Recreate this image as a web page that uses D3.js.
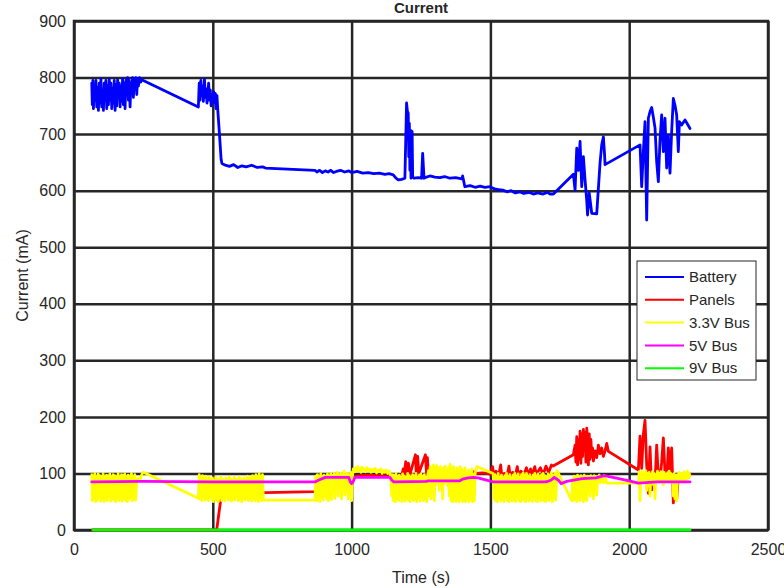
<!DOCTYPE html>
<html lang="en">
<head>
  <meta charset="UTF-8">
  <title>Current</title>
  <script src="https://d3js.org/d3.v7.min.js"></script>
  <style>
    body { margin: 0; background: #fff; }
    text { font-family: "Liberation Sans", Arial, sans-serif; fill: #262626; }
  </style>
</head>
<body>
  <div id="chart"></div>

  <script>
    // series: [time (s), current (mA)]
    const battery = [
      [64,790],[66,752],[68,795],[70,745],[73,785],[76,760],[79,795],[82,748],[85,782],[88,742],[91,790],[94,755],
      [97,798],[100,748],[103,775],[106,742],[109,790],[112,760],[115,795],[118,745],[121,785],[124,752],[127,797],
      [130,760],[133,790],[136,745],[139,780],[142,755],[145,795],[148,742],[151,788],[154,750],[157,796],[160,765],
      [163,790],[166,748],[169,785],[172,758],[175,798],[178,752],[181,790],[184,745],[187,795],[190,770],[193,800],
      [196,760],[199,795],[202,748],[205,790],[208,775],[211,800],[214,765],[217,798],[220,785],[223,800],[226,770],
      [229,798],[232,785],[236,800],[240,792],[244,796],
      [448,748],[451,790],[454,760],[457,795],[460,768],[463,785],[466,758],[470,797],[473,765],[476,780],[479,755],
      [482,772],[485,790],[488,760],[491,778],[494,750],[497,770],[500,763],[503,775],[506,755],[509,772],[512,745],
      [515,768],[518,742],[524,700],[530,655],[533,648],[545,645],[560,643],[575,646],[590,641],[605,644],[620,642],
      [640,645],[660,641],[680,642],[690,640],
      [868,636],[875,633],[885,636],[895,632],[905,635],[915,633],[925,636],[935,632],[945,634],[960,636],[975,633],
      [990,635],[1000,632],[1020,634],[1040,631],[1060,632],[1080,630],[1100,631],[1120,629],[1135,630],[1150,628],
      [1160,622],[1168,619],[1180,620],[1192,622],
      [1198,755],[1201,740],[1204,737],[1206,660],[1208,719],[1210,636],[1212,707],[1214,622],[1216,690],[1218,705],
      [1220,624],[1225,622],[1240,623],[1252,622],[1256,666],[1261,622],[1270,624],[1282,626],[1300,624],[1318,623],
      [1335,625],[1354,622],[1375,623],[1397,621],[1400,626],[1408,607],[1427,609],[1445,606],[1463,608],[1480,606],
      [1499,607],[1515,603],[1529,602],[1545,601],[1560,598],[1575,600],[1590,596],[1605,598],[1620,595],[1640,597],
      [1655,594],[1670,596],[1690,594],[1705,597],[1715,594],[1727,594],
      [1799,629],[1805,601],[1811,675],[1817,636],[1823,687],[1829,607],[1835,660],[1841,619],[1847,583],[1850,557],
      [1856,596],[1865,560],[1883,559],[1895,649],[1901,681],[1907,695],[1911,666],[1913,646],
      [2039,681],[2045,607],[2051,669],[2057,722],[2063,548],[2069,728],[2075,740],[2081,747],[2087,730],[2093,711],
      [2099,651],[2105,616],[2111,690],[2117,734],[2123,669],[2129,728],[2135,640],[2141,698],[2147,631],[2153,705],
      [2159,763],[2165,751],[2171,734],[2177,669],[2181,722],[2189,716],[2201,725],[2207,720],[2219,710]
    ];

    const panels = [
      [68,0],[514,0],[535,77],[540,68],[560,66],[600,67],[650,66],[690,66],[868,68],[880,85],[890,90],[920,92],
      [960,93],[990,90],[995,80],[1000,75],[1004,90],[1010,95],[1050,97],[1100,96],[1140,95],[1150,90],[1170,92],
      [1180,95],[1186,108],[1189,96],[1195,121],[1199,98],[1205,118],[1209,96],[1230,133],[1233,97],[1238,130],
      [1242,100],[1266,133],[1270,98],[1273,128],[1277,96],[1300,98],[1320,102],[1340,99],[1360,104],[1380,100],
      [1400,103],[1420,98],[1440,103],[1450,100],[1470,101],[1490,100],
      [1500,98],[1508,112],[1512,96],[1520,104],[1530,97],[1537,115],[1541,95],[1550,100],[1560,96],[1567,113],
      [1571,95],[1580,102],[1590,97],[1597,112],[1601,96],[1610,104],[1620,98],[1630,110],[1635,97],[1645,108],
      [1650,96],[1660,112],[1665,98],[1680,110],[1690,98],[1700,113],[1710,102],[1720,115],[1726,113],
      [1799,133],[1805,150],[1808,120],[1811,165],[1814,115],[1817,160],[1820,125],[1823,175],[1826,118],[1829,170],
      [1832,130],[1835,178],[1838,140],[1841,172],[1844,120],[1847,180],[1850,160],[1853,115],[1856,170],[1859,125],
      [1862,160],[1865,130],[1868,145],[1871,122],[1877,140],[1883,128],[1889,150],[1895,135],[1901,145],[1907,130],
      [1913,140],[1919,153],[1925,139],
      [2033,106],[2039,166],[2045,109],[2051,170],[2057,194],[2063,115],[2069,65],[2075,147],[2081,71],[2087,100],
      [2093,83],[2099,150],[2105,95],[2111,90],[2117,120],[2123,163],[2129,100],[2135,88],[2141,145],[2147,105],
      [2153,145],[2159,48],[2165,90],[2171,54],[2177,95],[2183,89],[2192,95],[2201,92],[2207,96],[2213,93],[2219,98]
    ];

    const bus33 = [
      [64,98],[66,52],[69,95],[72,55],[75,100],[78,50],[81,92],[84,53],[87,99],[90,58],[93,96],[96,51],[99,94],
      [102,56],[105,100],[108,50],[111,90],[114,54],[117,97],[120,52],[123,95],[126,60],[129,99],[132,51],[135,93],
      [138,55],[141,98],[144,53],[147,96],[150,50],[153,91],[156,57],[159,100],[162,52],[165,94],[168,55],[171,98],
      [174,51],[177,96],[180,56],[183,99],[186,53],[189,92],[192,50],[195,97],[198,54],[201,95],[204,58],[207,100],
      [210,52],[213,93],[216,55],[219,98],[222,53],[226,90],[230,88],[234,92],[238,89],[242,95],[246,100],[250,102],
      [448,56],[451,98],[454,55],[457,92],[460,52],[463,96],[466,58],[469,90],[472,53],[475,95],[478,56],[481,88],
      [484,52],[487,94],[490,60],[493,90],[496,54],[499,92],[502,50],[505,87],[508,55],[511,93],[514,53],[517,90],
      [520,50],[523,88],[526,57],[529,94],[532,52],[535,90],[538,56],[541,86],[544,52],[547,92],[550,58],[553,89],
      [556,53],[559,94],[562,55],[565,90],[568,51],[571,87],[574,56],[577,93],[580,53],[583,90],[586,59],[589,88],
      [592,52],[595,94],[598,55],[601,91],[604,50],[607,88],[610,56],[613,92],[616,53],[619,89],[622,57],[625,95],
      [628,52],[631,90],[634,55],[637,93],[640,51],[643,96],[646,56],[649,90],[652,52],[655,98],[658,55],[661,92],
      [664,50],[667,100],[670,57],[673,94],[676,52],[679,98],[682,55],[686,53],[690,53],
      [868,53],[871,95],[874,52],[877,98],[880,55],[883,92],[886,50],[889,100],[892,58],[895,94],[898,53],[901,97],
      [904,60],[907,92],[910,55],[913,99],[916,52],[919,95],[922,57],[925,100],[928,54],[931,96],[934,80],[937,100],
      [940,56],[943,98],[946,75],[949,102],[952,60],[955,97],[958,85],[961,100],[964,55],[967,98],[970,88],[973,104],
      [976,62],[979,99],[982,90],[985,100],[988,55],[991,97],[994,70],[997,102],[1000,52],[1003,95],
      [1006,108],[1010,103],[1014,110],[1018,104],[1022,112],[1026,105],[1030,109],[1034,102],[1038,111],[1042,106],
      [1046,108],[1050,103],[1055,110],[1060,105],[1065,108],[1070,102],[1075,107],[1080,104],[1085,109],[1090,101],
      [1095,106],[1100,103],[1105,108],[1110,100],[1115,105],[1120,102],[1125,106],[1130,100],[1135,104],[1140,98],
      [1145,60],[1148,98],[1151,52],[1154,96],[1157,50],[1160,100],[1163,55],[1166,94],[1169,52],[1172,97],[1175,58],
      [1178,92],[1181,50],[1184,99],[1187,54],[1190,95],[1193,51],[1196,90],[1199,56],[1202,100],[1205,53],[1208,96],
      [1211,50],[1214,93],[1217,57],[1220,98],[1223,52],[1226,95],[1229,55],[1232,100],[1235,50],[1238,92],[1241,56],
      [1244,97],[1247,51],[1250,99],[1253,58],[1256,94],[1259,52],[1262,98],[1265,55],[1268,91],[1271,50],[1274,96],
      [1277,105],[1280,60],[1283,112],[1286,55],[1289,108],[1292,75],[1295,115],[1298,52],[1301,110],[1304,80],
      [1307,114],[1310,85],[1313,108],[1316,70],[1319,112],[1322,88],[1325,106],[1328,55],[1331,110],[1334,82],
      [1337,113],[1340,90],[1343,105],[1346,78],[1349,110],[1352,60],[1355,116],[1358,52],[1361,108],[1364,50],
      [1367,112],[1370,55],[1373,104],[1376,50],[1379,110],[1382,53],[1385,106],[1388,50],[1391,112],[1394,56],
      [1397,108],[1400,50],[1403,104],[1406,52],[1409,110],[1412,50],[1415,100],[1418,55],[1421,106],[1424,50],
      [1427,102],[1430,54],[1433,108],[1436,50],[1439,98],[1442,52],[1445,100],[1451,112],[1510,100],
      [1513,55],[1516,98],[1519,52],[1522,95],[1525,50],[1528,100],[1531,56],[1534,93],[1537,51],[1540,97],[1543,54],
      [1546,90],[1549,50],[1552,96],[1555,58],[1558,100],[1561,52],[1564,94],[1567,50],[1570,98],[1573,55],[1576,92],
      [1579,51],[1582,97],[1585,54],[1588,100],[1591,50],[1594,95],[1597,57],[1600,99],[1603,52],[1606,93],[1609,50],
      [1612,98],[1615,55],[1618,101],[1621,52],[1624,96],[1627,50],[1630,100],[1633,56],[1636,94],[1639,51],[1642,98],
      [1645,54],[1648,92],[1651,50],[1654,97],[1657,58],[1660,100],[1663,52],[1666,95],[1669,50],[1672,99],[1675,55],
      [1678,93],[1681,51],[1684,98],[1687,54],[1690,100],[1693,52],[1696,96],[1699,50],[1702,94],[1705,56],[1708,99],
      [1711,52],[1714,97],[1717,55],[1720,101],[1723,50],[1726,96],[1729,58],[1732,100],[1735,53],[1740,105],
      [1793,52],[1796,90],[1799,52],[1802,95],[1805,55],[1808,92],[1811,50],[1814,97],[1817,56],[1820,90],[1823,52],
      [1826,96],[1829,58],[1832,93],[1835,50],[1838,97],[1841,55],[1844,90],[1847,52],[1850,95],[1853,85],[1856,94],
      [1859,60],[1862,96],[1865,88],[1868,92],[1871,55],[1874,96],[1877,86],[1880,94],[1883,62],[1886,93],[1889,85],
      [1892,97],[1895,84],[1898,92],[1901,86],[1904,95],[1907,84],[1910,96],[1913,85],[1916,90],[1919,83],
      [2033,83],[2036,103],[2039,52],[2042,100],[2045,90],[2048,104],[2051,85],[2054,100],[2057,92],[2060,105],
      [2063,70],[2066,100],[2069,88],[2072,102],[2075,60],[2078,98],[2081,90],[2084,103],[2087,80],[2090,100],
      [2093,55],[2096,98],[2099,88],[2102,104],[2105,85],[2108,100],[2111,92],[2114,103],[2117,86],[2120,100],
      [2123,80],[2126,102],[2129,90],[2132,98],[2135,85],[2138,101],[2141,88],[2144,104],[2147,90],[2150,100],
      [2153,85],[2156,98],[2159,60],[2162,100],[2165,55],[2168,96],[2171,52],[2174,98],[2177,85],[2180,102],
      [2183,88],[2186,100],[2189,86],[2192,99],[2195,90],[2198,103],[2201,88],[2204,100],[2207,90],[2210,104],
      [2213,92],[2216,100],[2219,95]
    ];

    const bus5 = [
      [64,85],[250,86],[500,85],[760,85],[868,85],[880,88],[905,93],[990,93],[995,85],[1000,82],[1006,86],[1012,93],
      [1138,93],[1145,88],[1152,85],[1270,86],[1275,87],[1390,87],[1400,90],[1420,92],[1438,93],[1455,92],[1510,85],
      [1620,85],[1700,85],[1718,88],[1730,93],[1745,88],[1755,82],[1775,86],[1800,88],[1830,91],[1880,92],[1910,96],
      [1950,92],[2000,87],[2033,83],[2100,85],[2219,85]
    ];

    const bus9 = [[68,0],[2219,0]];

    const seriesNames = ["Battery", "Panels", "3.3V Bus", "5V Bus", "9V Bus"];
    const seriesColors = ["#0000ff", "#ff0000", "#ffff00", "#ff00ff", "#00ff00"];
    const seriesData = [battery, panels, bus33, bus5, bus9];

    const xTicks = [0, 500, 1000, 1500, 2000, 2500];
    const yTicks = [0, 100, 200, 300, 400, 500, 600, 700, 800, 900];

    // layout
    const W = 784, H = 588;
    const margin = { top: 21, right: 16, bottom: 58, left: 74 };
    const width = W - margin.left - margin.right;
    const height = H - margin.top - margin.bottom;

    const svg = d3.select("#chart").append("svg")
      .attr("width", W)
      .attr("height", H);

    const g = svg.append("g")
      .attr("transform", "translate(" + margin.left + "," + margin.top + ")");

    const x = d3.scaleLinear().domain([0, 2500]).range([0, width]);
    const y = d3.scaleLinear().domain([0, 900]).range([height, 0]);

    const gridColor = "#262626";
    const fontFam = '"Liberation Sans", Arial, sans-serif';

    // grid lines
    g.append("g")
      .attr("transform", "translate(0," + height + ")")
      .call(d3.axisBottom(x).tickValues(xTicks).tickSize(-height).tickFormat(""))
      .call(a => a.select(".domain").remove())
      .call(a => a.selectAll("line").attr("stroke", gridColor).attr("stroke-width", 2.5));

    g.append("g")
      .call(d3.axisLeft(y).tickValues(yTicks).tickSize(-width).tickFormat(""))
      .call(a => a.select(".domain").remove())
      .call(a => a.selectAll("line").attr("stroke", gridColor).attr("stroke-width", 2.5));

    // box (data is drawn on top of it)
    g.append("rect")
      .attr("width", width)
      .attr("height", height)
      .attr("fill", "none")
      .attr("stroke", gridColor)
      .attr("stroke-width", 2.5);

    // data lines
    const line = d3.line()
      .x(d => x(d[0]))
      .y(d => y(d[1]));

    seriesData.forEach((s, i) => {
      g.append("path")
        .datum(s)
        .attr("fill", "none")
        .attr("stroke", seriesColors[i])
        .attr("stroke-width", 2.8)
        .attr("stroke-linejoin", "round")
        .attr("stroke-linecap", "round")
        .attr("d", line);
    });

    // tick labels
    g.append("g")
      .attr("transform", "translate(0," + height + ")")
      .call(d3.axisBottom(x).tickValues(xTicks).tickSize(0).tickPadding(14).tickFormat(d3.format("d")))
      .call(a => a.select(".domain").remove())
      .call(a => a.selectAll("text").style("font-size", "16px")
        .style("font-family", fontFam).attr("fill", gridColor));

    g.append("g")
      .call(d3.axisLeft(y).tickValues(yTicks).tickSize(0).tickPadding(8))
      .call(a => a.select(".domain").remove())
      .call(a => a.selectAll("text").style("font-size", "16px")
        .style("font-family", fontFam).attr("fill", gridColor));

    // axis titles
    svg.append("text")
      .attr("x", margin.left + width / 2)
      .attr("y", 583)
      .attr("text-anchor", "middle")
      .style("font-size", "16px")
      .text("Time (s)");

    svg.append("text")
      .attr("transform", "rotate(-90)")
      .attr("x", -(margin.top + height / 2))
      .attr("y", 28)
      .attr("text-anchor", "middle")
      .style("font-size", "16px")
      .text("Current (mA)");

    svg.append("text")
      .attr("x", margin.left + width / 2)
      .attr("y", 13)
      .attr("text-anchor", "middle")
      .style("font-size", "15px")
      .style("font-weight", "bold")
      .attr("fill", "#000")
      .text("Current");

    // legend
    const legend = svg.append("g").attr("transform", "translate(637,261)");
    legend.append("rect")
      .attr("width", 119)
      .attr("height", 119)
      .attr("fill", "#fff")
      .attr("stroke", gridColor)
      .attr("stroke-width", 1);

    seriesNames.forEach((name, i) => {
      const row = legend.append("g").attr("transform", "translate(0," + (16 + i * 22.8) + ")");
      row.append("line")
        .attr("x1", 8).attr("x2", 47)
        .attr("stroke", seriesColors[i])
        .attr("stroke-width", 2);
      row.append("text")
        .attr("x", 52)
        .attr("dy", "0.35em")
        .style("font-size", "15px")
        .attr("fill", "#000")
        .text(name);
    });
  </script>
</body>
</html>
